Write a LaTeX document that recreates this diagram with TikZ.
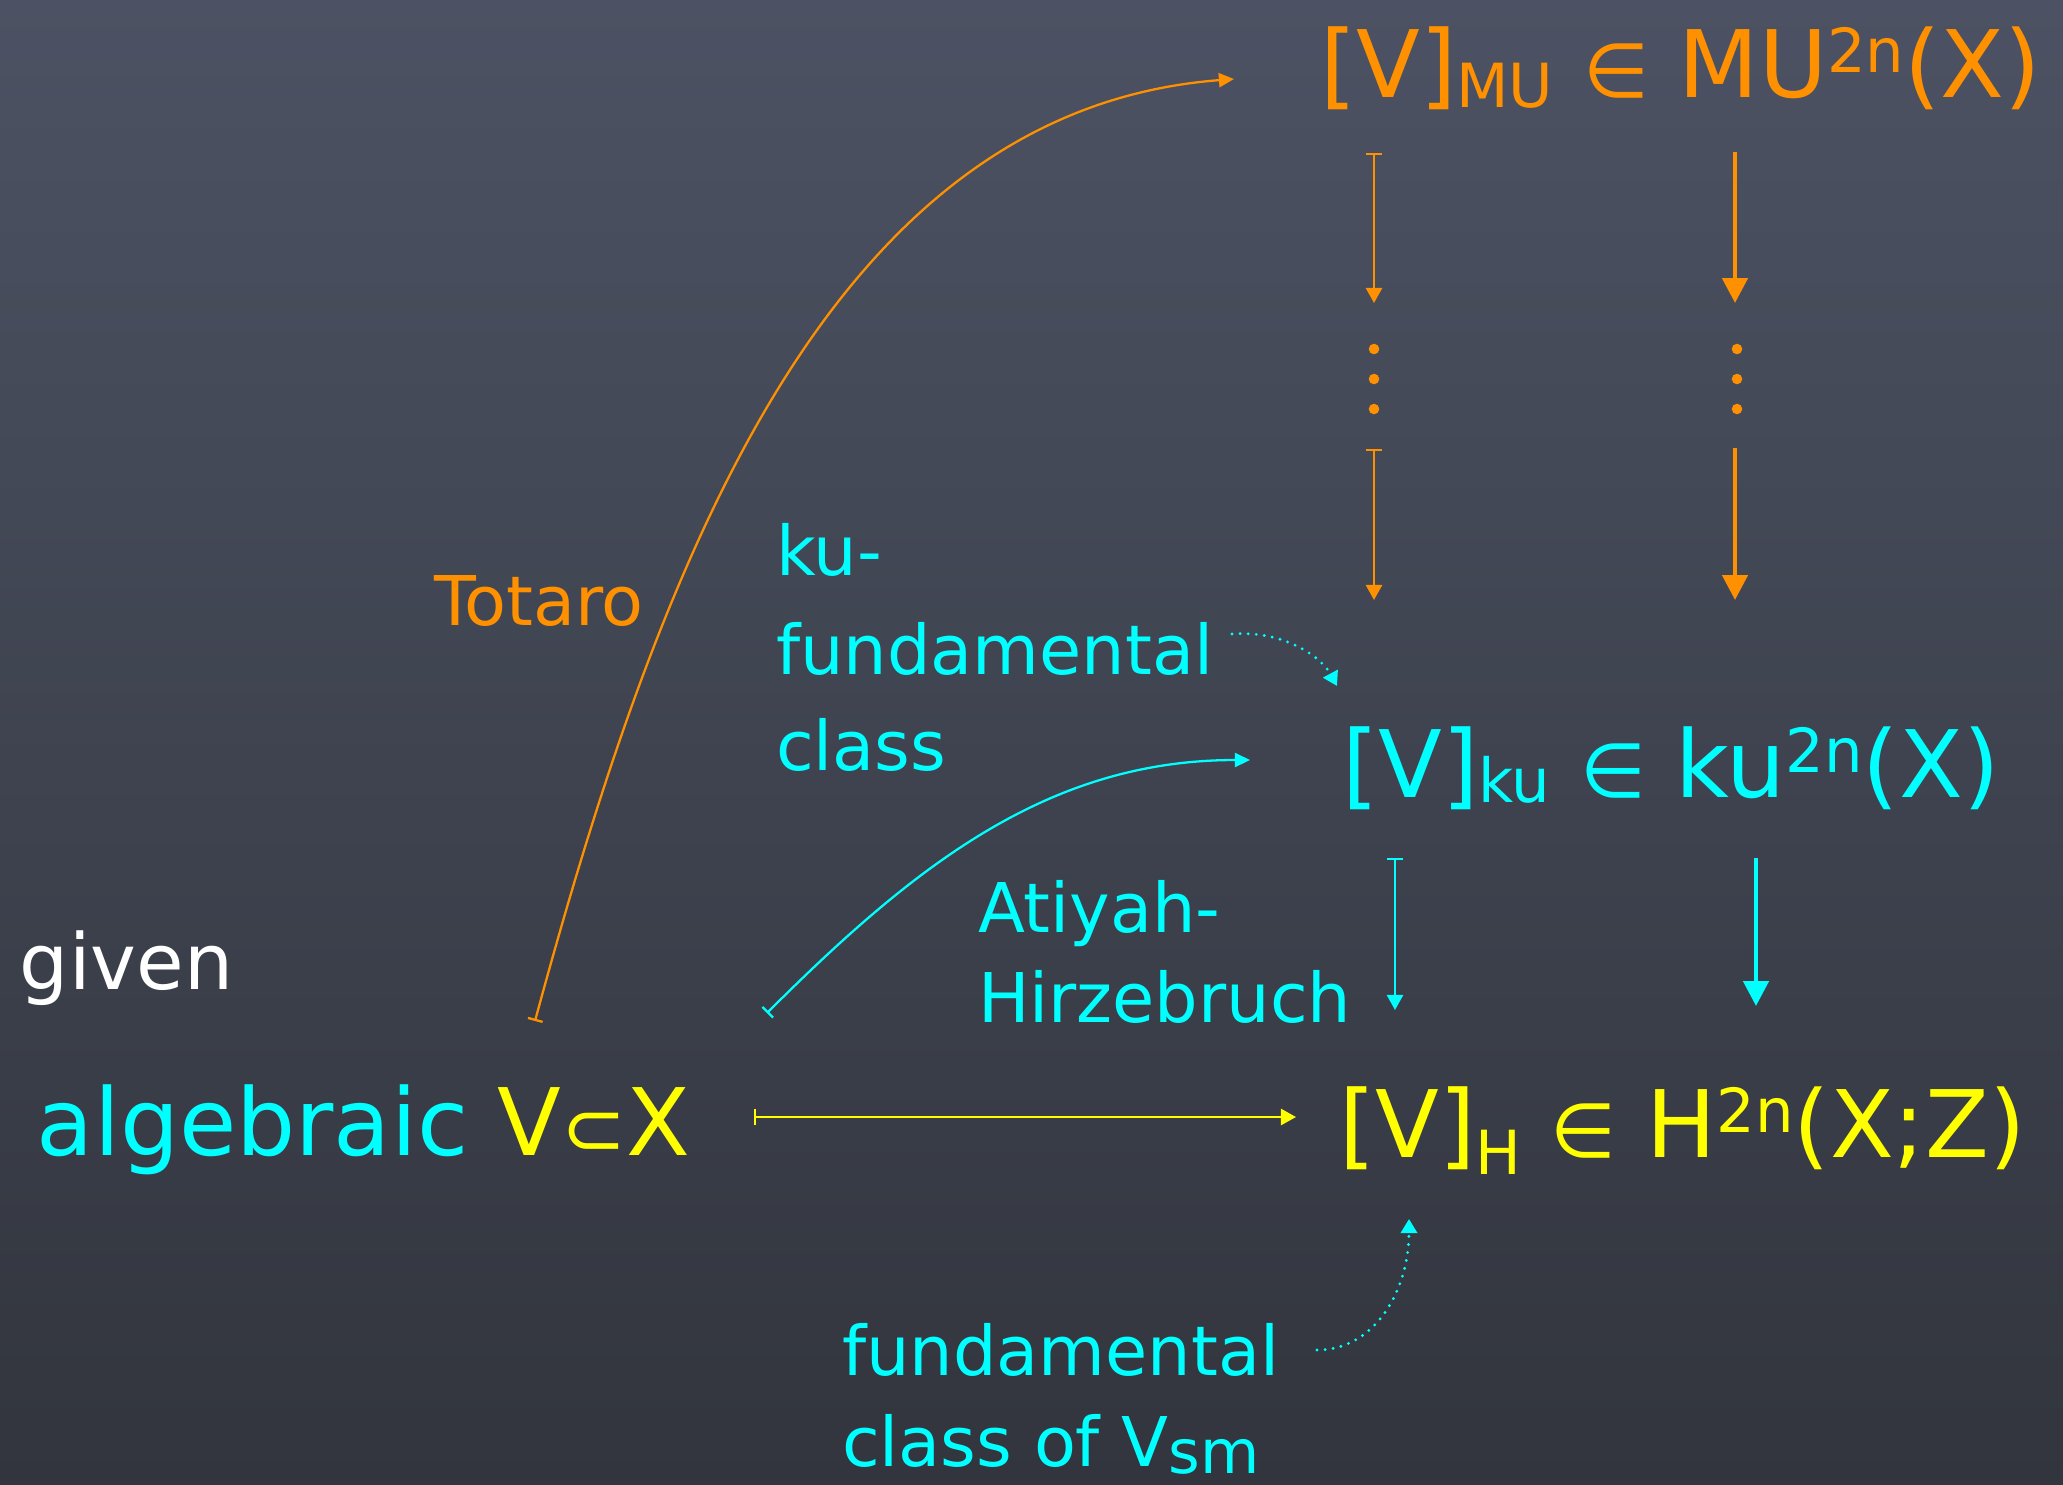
\documentclass[tikz,border=0pt]{standalone}
\usepackage{fontspec}
\setmainfont{DejaVu Sans}
\usetikzlibrary{arrows.meta}
\definecolor{orng}{RGB}{255,145,0}
\definecolor{cyn}{RGB}{0,255,255}
\definecolor{ylw}{RGB}{255,255,0}
\definecolor{bgtop}{RGB}{76,82,99}
\definecolor{bgbot}{RGB}{50,53,61}
\newcommand\bigfs{\fontsize{26.5}{30}\selectfont}
\newcommand\subfs{\fontsize{17.3}{20}\selectfont}
\newcommand\lblfs{\fontsize{19.5}{24}\selectfont}
\newcommand\dnx[2]{\raisebox{-#1}{\subfs #2}}
\newcommand\upx[1]{\raisebox{7.1pt}{\subfs #1}}
\newcommand\elt{{\fontsize{21.5}{24}\selectfont ∈}}
\begin{document}
\begin{tikzpicture}[x=0.01cm,y=-0.01cm,
  txt/.style={anchor=base west,inner sep=0pt,outer sep=0pt},
  bigtxt/.style={txt,font=\bigfs},
  lbl/.style={txt,font=\lblfs},
  thinarr/.style={line width=0.65pt,{Bar[width=4.6pt]}-{Triangle[length=4.3pt,width=4.6pt]}},
  thickarr/.style={line width=1.33pt,-{Triangle[length=7.1pt,width=7.1pt]}},
  curvarr/.style={line width=0.65pt,{Bar[width=4.3pt]}-{Triangle[length=4.3pt,width=4pt]}},
  dotarr/.style={line width=0.9pt,line cap=round,dash pattern=on 0pt off 2.3pt,-{Triangle[length=4pt,width=4.6pt]}},
  dotmark/.style={circle,fill,inner sep=0pt,minimum size=3pt}]
\shade[top color=bgtop,bottom color=bgbot] (0,0) rectangle (2063,1484);
\useasboundingbox (0,0) rectangle (2063,1484);

% formulas
\node[bigtxt,text=orng] (mu) at (1320,97) {[V]\dnx{2.85pt}{MU} \elt{} MU\upx{2n}(X)};
\node[bigtxt,text=cyn] (ku) at (1342,797) {[V]\dnx{1.7pt}{ku} \elt{} ku\upx{2n}(X)};
\node[bigtxt,text=ylw] (hh) at (1339,1157) {[V]\dnx{5.1pt}{H} \elt{} H\upx{2n}(X;Z)};
\node[bigtxt,text=cyn] (alg) at (37,1155) {algebraic \textcolor{ylw}{V{\fontsize{22}{24}\selectfont ⊂}X}};
\node[lbl,text=white,font=\fontsize{22}{24}\selectfont] (given) at (20,989) {given};

% labels
\node[lbl,text=orng] (totaro) at (434,625) {Totaro};
\node[lbl,text=cyn] (kul1) at (776,575) {ku-};
\node[lbl,text=cyn] (kul2) at (776,674) {fundamental};
\node[lbl,text=cyn] (kul3) at (776,770) {class};
\node[lbl,text=cyn] (ah1) at (978,932) {Atiyah-};
\node[lbl,text=cyn] (ah2) at (978,1022) {Hirzebruch};
\node[lbl,text=cyn] (fc1) at (842,1375) {fundamental};
\node[lbl,text=cyn] (fc2) at (842,1466) {class of V\dnx{2pt}{sm}};

% arrow end points
\coordinate (oa1s) at (1374,153); \coordinate (oa1e) at (1374,303);
\coordinate (oa2s) at (1374,449); \coordinate (oa2e) at (1374,600);
\coordinate (ob1s) at (1735,152); \coordinate (ob1e) at (1735,303);
\coordinate (ob2s) at (1735,448); \coordinate (ob2e) at (1735,600);
\coordinate (ca1s) at (1395,858); \coordinate (ca1e) at (1395,1010);
\coordinate (cb1s) at (1756,858); \coordinate (cb1e) at (1756,1006);
\coordinate (ys) at (754,1117); \coordinate (ye) at (1296,1117);
\coordinate (tots) at (535,1021); \coordinate (tote) at (1234,79);
\coordinate (ahs) at (767,1013); \coordinate (ahe) at (1250,760);
\coordinate (kds) at (1232,634); \coordinate (kde) at (1337,686);
\coordinate (fds) at (1317,1350); \coordinate (fde) at (1409,1219);

% orange column arrows
\draw[orng,thinarr] (oa1s) -- (oa1e);
\draw[orng,thinarr] (oa2s) -- (oa2e);
\draw[orng,thickarr] (ob1s) -- (ob1e);
\draw[orng,thickarr] (ob2s) -- (ob2e);
\foreach \yy [count=\i] in {349,379,409}{
  \node[dotmark,orng] (dl\i) at (1374,\yy) {};
  \node[dotmark,orng] (dr\i) at (1737,\yy) {};
}
% cyan column arrows
\draw[cyn,thinarr] (ca1s) -- (ca1e);
\draw[cyn,thickarr] (cb1s) -- (cb1e);
% yellow maps-to
\draw[ylw,thinarr] (ys) -- (ye);
% Totaro curve
\draw[orng,curvarr] (tots) .. controls (660,560) and (830,110) .. (tote);
% Atiyah-Hirzebruch curve
\draw[cyn,curvarr] (ahs) .. controls (917,863) and (1050,760) .. (ahe);
% dotted arrows
\draw[cyn,dotarr] (kds) .. controls (1285,630) and (1322,658) .. (kde);
\draw[cyn,dotarr] (fds) .. controls (1375,1350) and (1409,1290) .. (fde);
\end{tikzpicture}
\end{document}
